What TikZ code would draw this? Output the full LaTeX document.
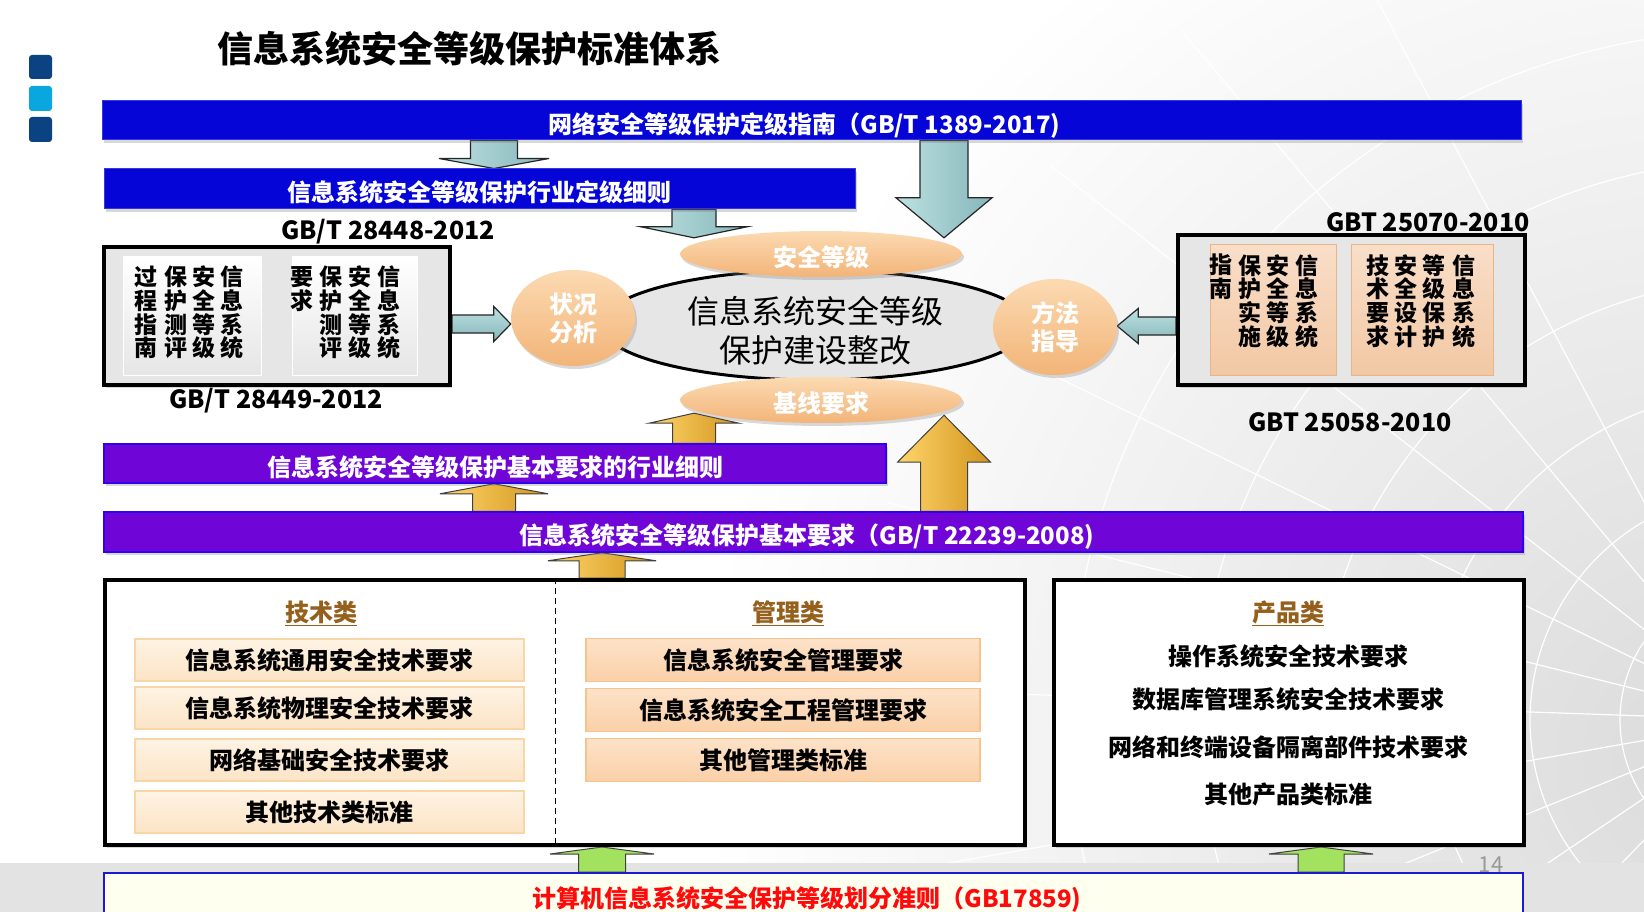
\documentclass[tikz,border=0pt]{standalone}
\usepackage{fontspec}
\setmainfont{Noto Sans CJK SC}
\usetikzlibrary{shapes.geometric,calc,shadows}
\pgfdeclarelayer{back}
\pgfdeclarelayer{arrows}
\pgfsetlayers{back,arrows,main}
\newcommand{\fsz}[2]{\fontsize{#1}{#2}\selectfont}
\definecolor{barblue}{HTML}{0505D8}
\definecolor{barpurple}{HTML}{7005D8}
\definecolor{sqdark}{HTML}{0B4282}
\definecolor{sqcyan}{HTML}{0AA6DE}
\definecolor{peachT}{HTML}{FCDAB2}
\definecolor{peachB}{HTML}{F2B478}
\definecolor{boxgray}{HTML}{E6E6E6}
\definecolor{rpanT}{HTML}{F9DEC8}
\definecolor{rpanB}{HTML}{F2C8A4}
\definecolor{rpanD}{HTML}{E8B48A}
\definecolor{techT}{HTML}{FEF3E4}
\definecolor{techB}{HTML}{FCE4C6}
\definecolor{techD}{HTML}{F8D6A8}
\definecolor{mgmtT}{HTML}{FDE2C8}
\definecolor{mgmtB}{HTML}{FAD0A8}
\definecolor{mgmtD}{HTML}{F6C28E}
\definecolor{brownlab}{HTML}{94601C}
\definecolor{arrowA}{HTML}{BDE1E1}
\definecolor{arrowB}{HTML}{86B6BA}
\definecolor{goldA}{HTML}{FFD66A}
\definecolor{goldB}{HTML}{D2941E}
\definecolor{greenA}{HTML}{A2E25E}
\definecolor{bottomfill}{HTML}{FFFFF0}
\definecolor{bottomline}{HTML}{1A1AD0}
\definecolor{redtext}{HTML}{FF0A0A}
\newcommand{\blockarrow}[6]{%
  \coordinate (hb) at ($#3!#6!#2$);
  \path[#1] ($#2!#4!90:#3$) -- ($(hb)!#4!-90:#2$) -- ($(hb)!#5!-90:#2$) -- #3 -- ($(hb)!#5!90:#2$) -- ($(hb)!#4!90:#2$) -- ($#2!#4!-90:#3$) -- cycle;
}
\tikzset{
  shad/.style={drop shadow={opacity=0.3,shadow xshift=2pt,shadow yshift=-3pt}},
  cjkline/.style={text height=26pt, text depth=0.4pt},
  bar/.style={rectangle, inner sep=0pt, text=white, font=\fsz{24}{28}\bfseries, cjkline, shad},
  bluebar/.style={bar, fill=barblue, draw=barblue!80!white, line width=1pt},
  purplebar/.style={bar, fill=barpurple, draw=blue!60!barpurple, line width=1.5pt},
  orangebub/.style={ellipse, inner sep=0pt, top color=peachT, bottom color=peachB, draw=none, text=white, font=\fsz{24}{28}\bfseries, align=center, shad},
  centerell/.style={ellipse, inner sep=0pt, fill=boxgray, draw=black, line width=3pt},
  thickbox/.style={rectangle, inner sep=0pt, draw=black, line width=4pt, fill=boxgray, shad},
  whitebox/.style={rectangle, inner sep=0pt, draw=black, line width=4pt, fill=white, shad},
  lpanel/.style={rectangle, inner sep=0pt, top color=white, bottom color=black!10, draw=white, line width=1pt},
  rpanel/.style={rectangle, inner sep=0pt, top color=rpanT, bottom color=rpanB, draw=rpanD, line width=1pt},
  vcol/.style={inner sep=0pt, align=center, font=\fsz{23}{23.7}\bfseries},
  gblabel/.style={inner sep=0pt, font=\fsz{25}{30}\bfseries},
  techitem/.style={rectangle, inner sep=0pt, minimum width=389pt, minimum height=42pt, top color=techT, bottom color=techB, draw=techD, line width=1.5pt, font=\fsz{24}{28}\bfseries},
  mgmtitem/.style={rectangle, inner sep=0pt, minimum width=394pt, minimum height=43pt, top color=mgmtT, bottom color=mgmtB, draw=mgmtD, line width=1.5pt, font=\fsz{24}{28}\bfseries},
  catlabel/.style={inner sep=0pt, font=\fsz{24}{28}\bfseries, text=brownlab},
  prodline/.style={inner sep=0pt, font=\fsz{24}{28}\bfseries},
  grayarrow/.style={left color=arrowA, right color=arrowB, draw=black!85, line width=1.2pt},
  hgrayarrow/.style={top color=arrowA, bottom color=arrowB, draw=black!85, line width=1.2pt},
  goldarrow/.style={left color=goldA, right color=goldB, draw=black!75, line width=1pt},
  greenarrow/.style={fill=greenA, draw=black!75, line width=1pt},
}
\begin{document}
\begin{tikzpicture}[x=1pt,y=-1pt]
\useasboundingbox (0,0) rectangle (1644,912);

% ---------- background ----------
\begin{pgfonlayer}{back}
\fill[white] (0,0) rectangle (1644,912);
\begin{scope}
\clip (0,0) rectangle (1644,863);
\shade[inner color=black!14, outer color=white] (1700,760) circle (1000);
\foreach \r in {140,230,330,440,560,690}
  \draw[white, line width=1.2pt] (1760,720) circle (\r);
\foreach \a in {110,122,...,250}
  \draw[white, line width=1.2pt] (1760,720) -- ++(\a:900);
\end{scope}
\fill[black!11] (0,863) rectangle (1644,912);
\end{pgfonlayer}

% ---------- title & decoration ----------
\fill[sqdark, rounded corners=3pt] (29,55) rectangle (52,79);
\fill[sqcyan, rounded corners=3pt] (29,86) rectangle (52,111);
\fill[sqdark, rounded corners=3pt] (29,117) rectangle (52,142);
\node[inner sep=0pt, font=\fsz{36}{40}\bfseries] (title) at (469,49) {信息系统安全等级保护标准体系};

% ---------- top bars ----------
\node[bluebar, minimum width=1419pt, minimum height=39pt] (topbar) at (811.5,120.5) {网络安全等级保护定级指南（GB/T 1389-2017)\hspace*{14pt}};
\node[bluebar, minimum width=751pt, minimum height=40pt] (bar2) at (479.5,189) {信息系统安全等级保护行业定级细则};

% ---------- left box ----------
\node[gblabel] (gb1) at (388,232) {GB/T 28448-2012};
\node[thickbox, minimum width=346pt, minimum height=138pt] (leftbox) at (277,316) {};
\node[lpanel, minimum width=138pt, minimum height=118pt] (lp1) at (192,316) {};
\node[lpanel, minimum width=125pt, minimum height=118pt] (lp2) at (354.5,316) {};
\node[vcol] (l1c1) at (232,312.6) {信\\息\\系\\统};
\node[vcol] (l1c2) at (204,312.6) {安\\全\\等\\级};
\node[vcol] (l1c3) at (176,312.6) {保\\护\\测\\评};
\node[vcol] (l1c4) at (146,312.6) {过\\程\\指\\南};
\node[vcol] (l2c1) at (389,312.6) {信\\息\\系\\统};
\node[vcol] (l2c2) at (360,312.6) {安\\全\\等\\级};
\node[vcol] (l2c3) at (331,312.6) {保\\护\\测\\评};
\node[vcol] (l2c4) at (302,288.9) {要\\求};
\node[gblabel] (gb2) at (276,401) {GB/T 28449-2012};

% ---------- centre ----------
\node[centerell, minimum width=428pt, minimum height=110pt] (core) at (815,325) {};
\node[inner sep=0pt, font=\fsz{32}{39}, align=center] (coretext) at (815,331) {信息系统安全等级\\保护建设整改};
\node[orangebub, minimum width=124pt, minimum height=96pt] (zhuang) at (573,318) {状况\\分析};
\node[orangebub, minimum width=124pt, minimum height=96pt] (fangfa) at (1055,327) {方法\\指导};
\node[orangebub, cjkline, minimum width=282pt, minimum height=46pt] (anquan) at (821,254) {安全等级};
\node[orangebub, cjkline, minimum width=282pt, minimum height=46pt] (jixian) at (821,400) {基线要求};

% ---------- right box ----------
\node[gblabel] (gb3) at (1428,222) {GBT 25070-2010};
\node[thickbox, minimum width=347pt, minimum height=150pt] (rightbox) at (1351.5,310) {};
\node[rpanel, minimum width=126pt, minimum height=130pt] (rp1) at (1273,310) {};
\node[rpanel, minimum width=142pt, minimum height=130pt] (rp2) at (1422,310) {};
\node[vcol] (r1c1) at (1307,301) {信\\息\\系\\统};
\node[vcol] (r1c2) at (1278,301) {安\\全\\等\\级};
\node[vcol] (r1c3) at (1250,301) {保\\护\\实\\施};
\node[vcol] (r1c4) at (1221,277) {指\\南};
\node[vcol] (r2c1) at (1464,301) {信\\息\\系\\统};
\node[vcol] (r2c2) at (1434,301) {等\\级\\保\\护};
\node[vcol] (r2c3) at (1406,301) {安\\全\\设\\计};
\node[vcol] (r2c4) at (1378,301) {技\\术\\要\\求};
\node[gblabel] (gb4) at (1350,422) {GBT 25058-2010};

% ---------- purple bars ----------
\node[purplebar, minimum width=782pt, minimum height=39pt] (purple1) at (495,463.5) {信息系统安全等级保护基本要求的行业细则};
\node[purplebar, minimum width=1419pt, minimum height=40pt] (purple2) at (813.5,532) {信息系统安全等级保护基本要求（GB/T 22239-2008)\hspace*{13pt}};

% ---------- lower boxes ----------
\node[whitebox, minimum width=920pt, minimum height=265pt] (techbox) at (564.5,712.5) {};
\node[whitebox, minimum width=470pt, minimum height=265pt] (prodbox) at (1289,712.5) {};
\coordinate (dashx) at (555,0);
\draw[black, line width=1pt, dash pattern=on 6pt off 4pt] (techbox.north -| dashx) -- (techbox.south -| dashx);
\node[catlabel] (lab1) at (321,613) {\underline{技术类}};
\node[catlabel] (lab2) at (788,613) {\underline{管理类}};
\node[catlabel] (lab3) at (1288,613) {\underline{产品类}};
\node[techitem] (t1) at (329.5,660) {信息系统通用安全技术要求};
\node[techitem] (t2) at (329.5,708) {信息系统物理安全技术要求};
\node[techitem] (t3) at (329.5,760) {网络基础安全技术要求};
\node[techitem] (t4) at (329.5,812) {其他技术类标准};
\node[mgmtitem] (m1) at (783,660) {信息系统安全管理要求};
\node[mgmtitem] (m2) at (783,710) {信息系统安全工程管理要求};
\node[mgmtitem] (m3) at (783,760) {其他管理类标准};
\node[prodline] (p1) at (1288,656) {操作系统安全技术要求};
\node[prodline] (p2) at (1288,699) {数据库管理系统安全技术要求};
\node[prodline] (p3) at (1288,747) {网络和终端设备隔离部件技术要求};
\node[prodline] (p4) at (1288,794) {其他产品类标准};

% ---------- bottom bar ----------
\node[rectangle, inner sep=0pt, minimum width=1419pt, minimum height=46pt, fill=bottomfill, draw=bottomline, line width=2pt, text=redtext, font=\fsz{24}{28}\bfseries, text height=25pt, text depth=2pt] (bottombar) at (813.5,896) {计算机信息系统安全保护等级划分准则（GB17859)\hspace*{13pt}};
\node[inner sep=0pt, text=black!40, font=\fsz{22}{24}] (pnum) at (1491,865) {14};

% ---------- block arrows ----------
\begin{pgfonlayer}{arrows}
\coordinate (xa) at (494,0);
\coordinate (xb) at (944,0);
\coordinate (xc) at (694,0);
\coordinate (xd) at (602,0);
\coordinate (xe) at (1321,0);
\coordinate (yl) at (0,324);
\coordinate (yr) at (0,326);
% top bar -> sector grading bar
\coordinate (s1) at (topbar.south -| xa);
\coordinate (e1) at (bar2.north -| xa);
\blockarrow{grayarrow}{(s1)}{(e1)}{23.5pt}{55pt}{10pt}
% top bar -> security level
\coordinate (s2) at (topbar.south -| xb);
\coordinate (e2) at ($(anquan.north -| xb)+(0,7)$);
\blockarrow{grayarrow}{(s2)}{(e2)}{24pt}{48pt}{40pt}
% sector grading bar -> security level
\coordinate (s3) at (bar2.south -| xc);
\coordinate (e3) at ($(anquan.north -| xc)+(0,7)$);
\blockarrow{grayarrow}{(s3)}{(e3)}{22pt}{53pt}{11pt}
% left box -> status analysis
\coordinate (s4) at (yl -| leftbox.east);
\coordinate (e4) at (yl -| zhuang.west);
\blockarrow{hgrayarrow}{(s4)}{(e4)}{9pt}{17.5pt}{17pt}
% right box -> method guidance
\coordinate (s5) at (yr -| rightbox.west);
\coordinate (e5) at (yr -| fangfa.east);
\blockarrow{hgrayarrow}{(s5)}{(e5)}{9pt}{17.5pt}{21pt}
% basic requirement -> sector detail
\coordinate (s6) at (purple2.north -| xa);
\coordinate (e6) at (purple1.south -| xa);
\blockarrow{goldarrow}{(s6)}{(e6)}{21.5pt}{54pt}{10pt}
% basic requirement -> baseline
\coordinate (s7) at (purple2.north -| xb);
\coordinate (e7) at ($(jixian.south -| xb)+(0,-8)$);
\blockarrow{goldarrow}{(s7)}{(e7)}{23.5pt}{46.5pt}{47pt}
% sector detail -> baseline
\coordinate (s8) at (purple1.north -| xc);
\coordinate (e8) at ($(jixian.south -| xc)+(0,-10)$);
\blockarrow{goldarrow}{(s8)}{(e8)}{21.5pt}{45pt}{10pt}
% tech box -> basic requirement
\coordinate (s9) at (techbox.north -| xd);
\coordinate (e9) at (purple2.south -| xd);
\blockarrow{goldarrow}{(s9)}{(e9)}{23pt}{54pt}{8pt}
% bottom -> tech box
\coordinate (s10) at (bottombar.north -| xd);
\coordinate (e10) at (techbox.south -| xd);
\blockarrow{greenarrow}{(s10)}{(e10)}{23.5pt}{52pt}{7pt}
% bottom -> product box
\coordinate (s11) at (bottombar.north -| xe);
\coordinate (e11) at (prodbox.south -| xe);
\blockarrow{greenarrow}{(s11)}{(e11)}{23pt}{52pt}{7pt}
\end{pgfonlayer}
\end{tikzpicture}
\end{document}
